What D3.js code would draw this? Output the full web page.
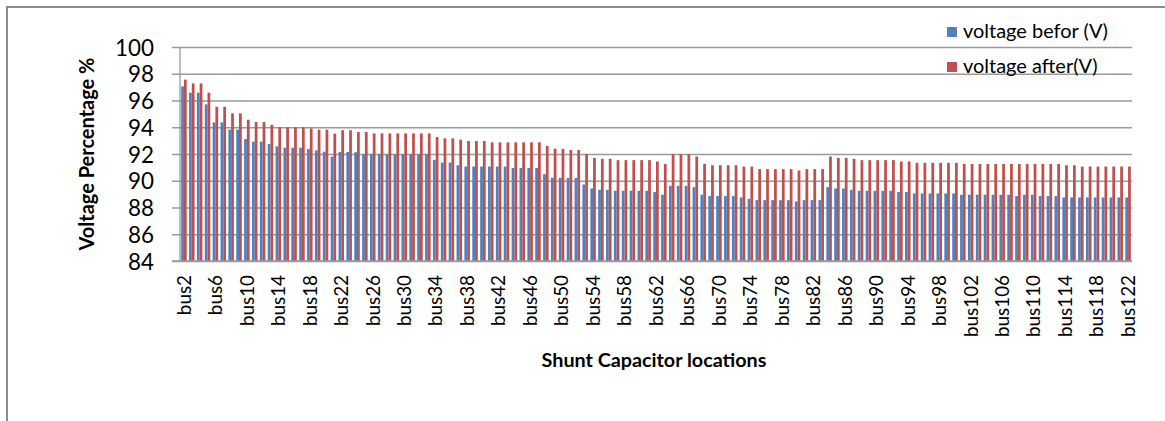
<!DOCTYPE html>
<html><head><meta charset="utf-8">
<script src="https://cdn.jsdelivr.net/npm/d3@7"></script>
<style>
body{margin:0;background:#fff;}
svg{display:block;}
text{font-family:Lato,"Open Sans",sans-serif;fill:#000;}
</style>
</head><body>
<svg id="c" width="1165" height="421"></svg>
<script>
const categories = ["bus2","bus3","bus4","bus5","bus6","bus7","bus8","bus9","bus10","bus11",
"bus12","bus13","bus14","bus15","bus16","bus17","bus18","bus19","bus20","bus21",
"bus22","bus23","bus24","bus25","bus26","bus27","bus28","bus29","bus30","bus31",
"bus32","bus33","bus34","bus35","bus36","bus37","bus38","bus39","bus40","bus41",
"bus42","bus43","bus44","bus45","bus46","bus47","bus48","bus49","bus50","bus51",
"bus52","bus53","bus54","bus55","bus56","bus57","bus58","bus59","bus60","bus61",
"bus62","bus63","bus64","bus65","bus66","bus67","bus68","bus69","bus70","bus71",
"bus72","bus73","bus74","bus75","bus76","bus77","bus78","bus79","bus80","bus81",
"bus82","bus83","bus84","bus85","bus86","bus87","bus88","bus89","bus90","bus91",
"bus92","bus93","bus94","bus95","bus96","bus97","bus98","bus99","bus100","bus101",
"bus102","bus103","bus104","bus105","bus106","bus107","bus108","bus109","bus110","bus111",
"bus112","bus113","bus114","bus115","bus116","bus117","bus118","bus119","bus120","bus121",
"bus122"];

const voltageBefore = [
97.06,96.58,96.58,95.71,94.36,94.36,93.82,93.82,93.12,92.92,
92.92,92.74,92.57,92.47,92.47,92.47,92.37,92.27,92.17,91.80,
92.15,92.15,92.13,92.00,92.00,92.00,92.00,92.00,92.00,92.00,
92.00,92.00,91.56,91.36,91.36,91.16,91.06,91.06,91.06,91.06,
91.06,91.06,90.96,90.96,90.96,90.96,90.49,90.22,90.22,90.20,
90.20,89.72,89.42,89.32,89.32,89.25,89.25,89.25,89.25,89.25,
89.15,88.95,89.62,89.62,89.62,89.52,88.95,88.85,88.85,88.85,
88.85,88.75,88.65,88.55,88.55,88.55,88.55,88.55,88.45,88.55,
88.55,88.55,89.52,89.42,89.42,89.32,89.25,89.25,89.25,89.25,
89.25,89.15,89.15,89.05,89.05,89.05,89.05,89.05,89.05,88.95,
88.95,88.95,88.95,88.95,88.95,88.95,88.85,88.95,88.95,88.85,
88.85,88.85,88.75,88.75,88.75,88.75,88.75,88.75,88.75,88.75,
88.75];

const voltageAfter = [
97.56,97.28,97.28,96.58,95.53,95.53,95.04,95.04,94.56,94.39,
94.39,94.19,94.01,94.01,94.01,94.01,93.91,93.82,93.82,93.52,
93.78,93.78,93.64,93.64,93.54,93.54,93.54,93.54,93.54,93.54,
93.54,93.54,93.27,93.17,93.17,93.07,92.97,92.97,92.97,92.87,
92.87,92.87,92.87,92.87,92.87,92.87,92.60,92.40,92.38,92.30,
92.30,91.99,91.71,91.64,91.64,91.54,91.54,91.54,91.54,91.54,
91.44,91.26,91.99,91.99,91.99,91.81,91.26,91.16,91.16,91.16,
91.16,91.06,91.06,90.87,90.87,90.87,90.87,90.87,90.77,90.87,
90.87,90.87,91.81,91.71,91.71,91.64,91.54,91.54,91.54,91.54,
91.54,91.44,91.44,91.34,91.34,91.34,91.34,91.34,91.34,91.26,
91.26,91.26,91.26,91.26,91.26,91.26,91.26,91.26,91.26,91.26,
91.26,91.26,91.16,91.16,91.06,91.06,91.06,91.06,91.06,91.06,
91.06];

const xTickLabels = ["bus2","bus6","bus10","bus14","bus18","bus22","bus26","bus30","bus34","bus38",
"bus42","bus46","bus50","bus54","bus58","bus62","bus66","bus70","bus74","bus78",
"bus82","bus86","bus90","bus94","bus98","bus102","bus106","bus110","bus114","bus118","bus122"];
const yTicks = [84,86,88,90,92,94,96,98,100];
const seriesNames = ["voltage befor (V)","voltage after(V)"];
const seriesColors = ["#4F81BD","#C0504D"];
const yTitle = "Voltage Percentage %";
const xTitle = "Shunt Capacitor locations";

(function(){
const svg = d3.select("#c");
const W = 1165, H = 421;
const pL = 180, pR = 1132, pT = 47, pB = 261;

function fit(sel, target){
  const n = sel.node();
  const fs = parseFloat(sel.style("font-size"));
  const l = n.getComputedTextLength();
  return fs * target / l;
}

svg.append("path").attr("d", `M7,${H} V7 H${W}`).attr("fill","none")
  .attr("stroke","#8c8c8c").attr("stroke-width",2);

const x = d3.scaleBand().domain(categories).range([pL,pR]).paddingInner(0.3).paddingOuter(0.15);
const xs = d3.scaleBand().domain([0,1]).range([0,x.bandwidth()]);
const y = d3.scaleLinear().domain([84,100]).range([pB,pT]);

const grid = svg.append("g").attr("transform",`translate(${pR},0)`)
  .call(d3.axisLeft(y).tickValues(yTicks).tickSize(pR-172).tickFormat(""));
grid.select(".domain").remove();
grid.selectAll("line").attr("stroke","#9a9a9a").attr("stroke-width",1.3);

const series = [voltageBefore, voltageAfter];
series.forEach((vals,si)=>{
  svg.append("g").selectAll("rect").data(categories).join("rect")
    .attr("x", (c)=>x(c)+xs(si))
    .attr("width", xs.bandwidth())
    .attr("y", (c,i)=>y(vals[i]))
    .attr("height", (c,i)=>y(84)-y(vals[i]))
    .attr("fill", seriesColors[si]);
});

svg.append("line").attr("x1",pL).attr("x2",pL).attr("y1",pT).attr("y2",pB)
  .attr("stroke","#9a9a9a").attr("stroke-width",1.3);
svg.append("line").attr("x1",172).attr("x2",pR).attr("y1",pB).attr("y2",pB)
  .attr("stroke","#9a9a9a").attr("stroke-width",1.3);

const ya = svg.append("g").attr("transform",`translate(${pL},0)`)
  .call(d3.axisLeft(y).tickValues(yTicks).tickSize(0).tickPadding(26));
ya.select(".domain").remove();
ya.selectAll("text").style("font-family","Lato").style("font-size","22px").attr("fill","#000");
const yfs = fit(ya.selectAll("text").filter(d=>d===100), 39);
ya.selectAll("text").style("font-size", yfs+"px").attr("dy","0.36em");

const xa = svg.append("g").attr("transform",`translate(0,${pB})`)
  .call(d3.axisBottom(x).tickValues(xTickLabels).tickSize(0));
xa.select(".domain").remove();
xa.selectAll("text").style("font-family","Lato").style("font-size","20px")
  .attr("transform","rotate(-90)").attr("text-anchor","end")
  .attr("x",-14).attr("y",0).attr("dy","0.36em").attr("fill","#000");
const xfs = fit(xa.selectAll("text").filter(d=>d==="bus122"), 62);
xa.selectAll("text").style("font-size", xfs+"px");

const yt = svg.append("text").attr("transform","translate(94,154) rotate(-90)")
  .attr("text-anchor","middle").style("font-weight","bold").style("font-size","17px").text(yTitle);
yt.style("font-size", fit(yt,193)+"px");
const xt = svg.append("text").attr("x",654).attr("y",367)
  .attr("text-anchor","middle").style("font-weight","bold").style("font-size","17px").text(xTitle);
xt.style("font-size", fit(xt,225)+"px");

const lg = svg.append("g");
const legendY = [38,73];
let lfs = null;
seriesNames.forEach((nm,i)=>{
  lg.append("rect").attr("x",947).attr("y",legendY[i]-11).attr("width",10).attr("height",10)
    .attr("fill",seriesColors[i]);
  const t = lg.append("text").attr("x",963).attr("y",legendY[i]).style("font-size","20px").text(nm);
  if(lfs===null) lfs = fit(t,145);
  t.style("font-size", lfs+"px");
});
})();
</script>
</body></html>
